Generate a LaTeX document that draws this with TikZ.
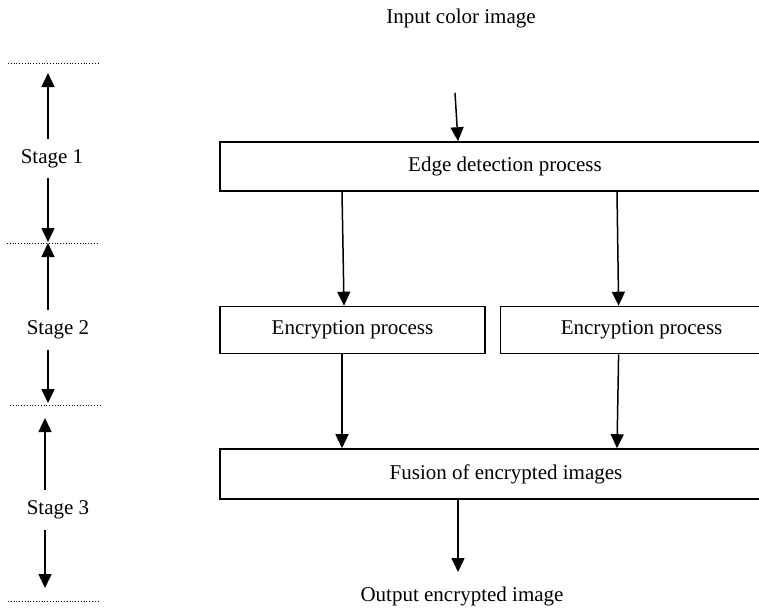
\documentclass[tikz,border=0pt]{standalone}
\usepackage{fontspec}
\setmainfont{Liberation Serif}
\usetikzlibrary{positioning,arrows.meta}

\begin{document}
\begin{tikzpicture}[
x=0.5pt, y=-0.5pt,
font=\fontsize{10.5pt}{12pt}\selectfont,
box/.style={draw, line width=0.8pt, inner sep=0pt, minimum height=24.5pt},
arrow/.style={-{Triangle[length=7pt, width=6.5pt]}, line width=0.75pt},
stagelabel/.style={inner sep=0pt, minimum height=19.5pt},
bound/.style={line width=0.5pt, dash pattern=on 0.4pt off 1pt}
]
\useasboundingbox (0,0) rectangle (759,607);
\clip (0,0) rectangle (759,607);

% processing chain
\node (input) at (461,18) {Input color image};
\coordinate (feed) at (455,93);
\node[box, minimum width=285pt] (edge) at (505,166.5) {Edge detection process};
\node[box, minimum width=132.5pt, minimum height=23.5pt] (encl) at (352.5,330) {Encryption process};
\node[box, minimum width=141pt, minimum height=23.5pt, right=7pt of encl] (encr) {Encryption process};
\node[box, minimum width=286pt, minimum height=25pt] (fusion) at (506,474) {Fusion of encrypted images};
\coordinate (out) at (458,572);
\node (output) at (462,596) {Output encrypted image};

\draw[arrow] (feed) -- ([xshift=-23.5pt]edge.north);
\draw[arrow] ([xshift=-81.5pt]edge.south) -- ([xshift=-4.25pt]encl.north);
\draw[arrow] ([xshift=56pt]edge.south) -- ([xshift=-11.5pt]encr.north);
\draw[arrow] ([xshift=-5.25pt]encl.south) -- ([xshift=-82pt]fusion.north);
\draw[arrow] ([xshift=-11.5pt]encr.south) -- ([xshift=55.5pt]fusion.north);
\draw[arrow] ([xshift=-24pt]fusion.south) -- (out);

% stage boundaries
\draw[bound] (8,63) -- (99,63);
\draw[bound] (7,243) -- (97,243);
\draw[bound] (10,405) -- (100,405);
\draw[bound] (8,601) -- (100,601);

% stage spans
\coordinate (t1a) at (48,73);
\coordinate (t1b) at (48,242);
\coordinate (t2a) at (48,243);
\coordinate (t2b) at (48,403);
\coordinate (t3a) at (45,418);
\coordinate (t3b) at (45,588);
\node[stagelabel] (st1) at (52,158.5) {Stage 1};
\node[stagelabel] (st2) at (58,330) {Stage 2};
\node[stagelabel] (st3) at (58,510) {Stage 3};
\draw[arrow] (st1.north -| t1a) -- (t1a);
\draw[arrow] (st1.south -| t1b) -- (t1b);
\draw[arrow] (st2.north -| t2a) -- (t2a);
\draw[arrow] (st2.south -| t2b) -- (t2b);
\draw[arrow] (st3.north -| t3a) -- (t3a);
\draw[arrow] (st3.south -| t3b) -- (t3b);
\end{tikzpicture}
\end{document}
